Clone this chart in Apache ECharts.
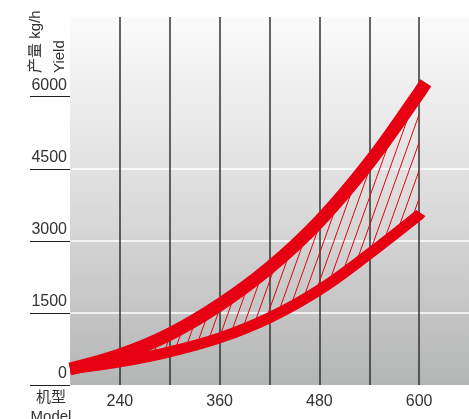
<!DOCTYPE html>
<html>
<head>
<meta charset="utf-8">
<script src="https://cdn.jsdelivr.net/npm/echarts@6/dist/echarts.min.js"></script>
<style>
  html, body { margin: 0; padding: 0; background: #fff; }
  #chart { width: 469px; height: 419px; }
</style>
</head>
<body>
<div id="chart"></div>
<script>
// model (x) and yield kg/h (y)
const models = [180, 240, 300, 360, 420, 480, 540, 600]
const upperYield = [333, 625, 1060, 1670, 2440, 3410, 4630, 6080]
const lowerYield = [333, 480, 690, 980, 1400, 1980, 2730, 3540]
const upperEnd = [608, 6290]
const lowerEnd = [602, 3580]

// category slots for the hatched band (same spacing as the value axis)
const bandSlots = [180, 240, 300, 360, 420, 480, 540, 600, 660]
const xLabels = [240, 360, 480, 600]
const yTicks = [0, 1500, 3000, 4500, 6000]

const RED = '#e60012'
const FONT = '"Liberation Sans", Arial, sans-serif'

const pairs = (xs, ys) => xs.map((x, i) => [x, ys[i]])
const gap = upperYield.map((v, i) => v - lowerYield[i])

// small tile with one slanted stroke, repeated to hatch the band
const hatch = document.createElement('canvas')
hatch.width = 10
hatch.height = 28
const ctx = hatch.getContext('2d')
ctx.strokeStyle = RED
ctx.lineWidth = 1
;[-10, 0, 10].forEach(dx => {
  ctx.beginPath()
  ctx.moveTo(dx, 28)
  ctx.lineTo(dx + 10, 0)
  ctx.stroke()
})

const chart = echarts.init(document.getElementById('chart'))

chart.setOption({
  animation: false,
  grid: {
    left: 70,
    right: 0,
    top: 17,
    bottom: 34,
    show: true,
    borderWidth: 0,
    backgroundColor: {
      type: 'linear', x: 0, y: 0, x2: 0, y2: 1,
      colorStops: [
        { offset: 0, color: '#fbfbfb' },
        { offset: 0.5, color: '#dcdcdc' },
        { offset: 1, color: '#b4b5b5' }
      ]
    }
  },
  xAxis: [{
    type: 'value',
    min: 180,
    max: 660,
    interval: 60,
    axisLine: { show: false },
    axisTick: { show: false },
    axisLabel: {
      customValues: xLabels,
      color: '#333',
      fontSize: 16,
      fontFamily: FONT,
      margin: 9
    },
    splitLine: {
      show: true,
      showMinLine: false,
      showMaxLine: false,
      lineStyle: { color: '#333', width: 1.5 }
    }
  }, {
    type: 'category',
    data: bandSlots,
    boundaryGap: false,
    show: false
  }],
  yAxis: {
    type: 'value',
    min: 0,
    max: 7660,
    interval: 1500,
    axisLine: { show: false },
    axisTick: {
      show: true,
      customValues: yTicks,
      length: 40,
      lineStyle: { color: '#231f20', width: 1 }
    },
    axisLabel: {
      customValues: yTicks,
      formatter: v => String(v),
      color: '#333',
      fontSize: 16,
      fontFamily: FONT,
      verticalAlign: 'bottom',
      padding: [0, 0, 3, 0],
      margin: 3
    },
    splitLine: {
      show: true,
      showMinLine: false,
      showMaxLine: false,
      lineStyle: { color: '#fff', width: 1.5 }
    }
  },
  graphic: [
    {
      type: 'text',
      x: 24,
      y: 73,
      rotation: Math.PI / 2,
      style: {
        text: '产量 kg/h\nYield',
        align: 'left',
        verticalAlign: 'top',
        lineHeight: 24,
        fill: '#333',
        font: '15px "Liberation Sans", "Noto Sans CJK SC", sans-serif'
      }
    },
    {
      type: 'text',
      x: 51,
      y: 388,
      style: {
        text: '机型\nModel',
        align: 'center',
        verticalAlign: 'top',
        lineHeight: 19,
        fill: '#333',
        font: '15px "Liberation Sans", "Noto Sans CJK SC", sans-serif'
      }
    }
  ],
  series: [
    // hatched band between the two curves (stacked on the category axis)
    {
      type: 'line',
      xAxisIndex: 1,
      stack: 'band',
      data: lowerYield,
      smooth: 0.4,
      symbol: 'none',
      silent: true,
      lineStyle: { width: 0, opacity: 0 },
      z: 1
    },
    {
      type: 'line',
      xAxisIndex: 1,
      stack: 'band',
      data: gap,
      smooth: 0.4,
      symbol: 'none',
      silent: true,
      lineStyle: { width: 0, opacity: 0 },
      areaStyle: { color: { image: hatch, repeat: 'repeat' }, opacity: 1 },
      z: 1
    },
    {
      type: 'line',
      data: pairs(models, lowerYield).concat([lowerEnd]),
      smooth: 0.4,
      symbol: 'none',
      lineStyle: { color: RED, width: 11, cap: 'butt' },
      z: 3
    },
    {
      type: 'line',
      data: pairs(models, upperYield).concat([upperEnd]),
      smooth: 0.4,
      symbol: 'none',
      lineStyle: { color: RED, width: 13, cap: 'butt' },
      z: 3
    }
  ]
})
</script>
</body>
</html>
